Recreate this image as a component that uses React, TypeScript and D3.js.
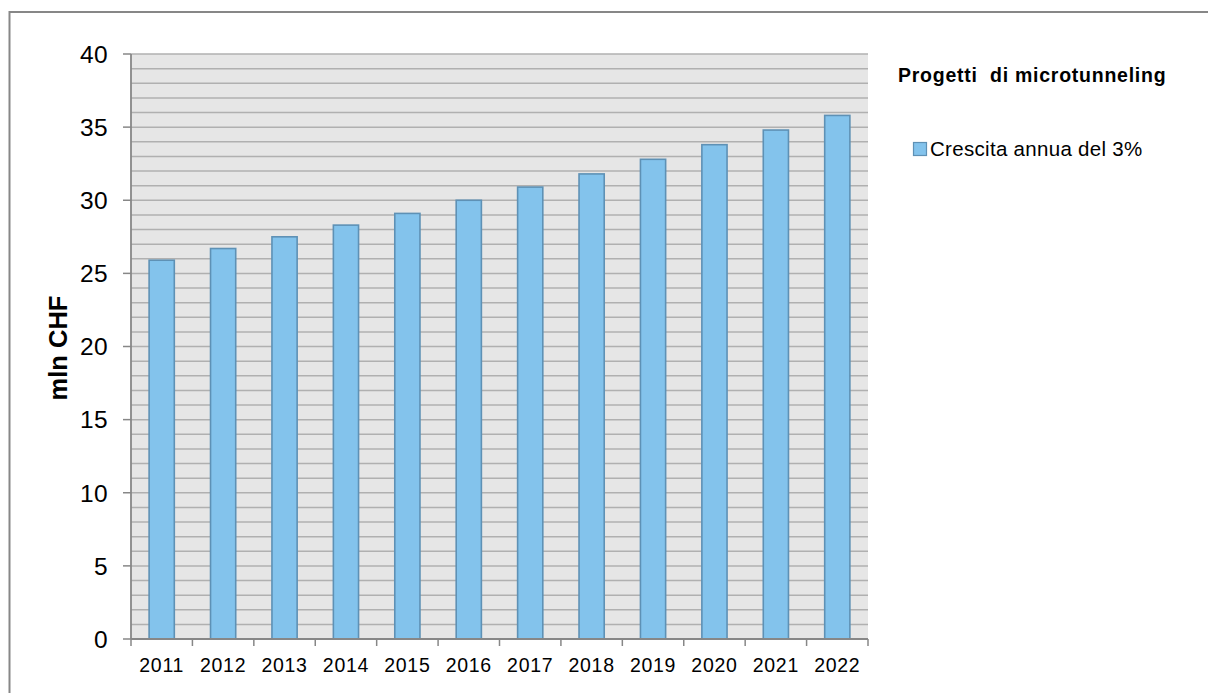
import React from "react";
import * as d3 from "d3";

const years = ["2011","2012","2013","2014","2015","2016","2017","2018","2019","2020","2021","2022"];
const values = [25.9, 26.7, 27.5, 28.3, 29.1, 30.0, 30.9, 31.8, 32.8, 33.8, 34.8, 35.8];
const yTicks = [0, 5, 10, 15, 20, 25, 30, 35, 40];
const gridValues = d3.range(0, 41, 1);
const legendTitle = "Progetti  di microtunneling";
const seriesName = "Crescita annua del 3%";
const yTitle = "mln CHF";

export default function App() {
  const W = 1208, H = 693;
  const left = 131, right = 868, top = 54, bottom = 639;
  const x = d3.scaleBand().domain(years).range([left, right]).paddingInner(0).paddingOuter(0);
  const y = d3.scaleLinear().domain([0, 40]).range([bottom, top]);
  const bw = x.bandwidth() * 0.41;
  const font = "'Liberation Sans', Arial, sans-serif";
  return (
    <svg width={W} height={H} style={{ position: "absolute", left: 0, top: 0, display: "block" }} fontFamily={font}>
      <rect x={0} y={0} width={W} height={H} fill="#fff" />
      <rect x={9.5} y={12} width={1210} height={700} fill="none" stroke="#878787" strokeWidth={2} />
      <rect x={left} y={top} width={right - left} height={bottom - top} fill="#E6E6E6" />
      {gridValues.map(v => (
        <line key={"g" + v} x1={left} x2={right} y1={y(v)} y2={y(v)} stroke="#B0B0B0" strokeWidth={1.5} />
      ))}
      {years.map((yr, i) => (
        <rect key={yr} x={x(yr)! + (x.bandwidth() - bw) / 2} y={y(values[i])} width={bw} height={bottom - y(values[i])}
          fill="#83C3EC" stroke="#5E91B5" strokeWidth={1.6} />
      ))}
      <line x1={left} x2={left} y1={top} y2={bottom} stroke="#878787" strokeWidth={1.8} />
      <line x1={left} x2={right} y1={bottom} y2={bottom} stroke="#878787" strokeWidth={1.8} />
      {yTicks.map(v => (
        <g key={"t" + v}>
          <line x1={left - 8} x2={left} y1={y(v)} y2={y(v)} stroke="#878787" strokeWidth={1.5} />
          <text x={108} y={y(v)} dy="0.36em" textAnchor="end" fontSize={24.5} letterSpacing={0.4} fill="#000">{v}</text>
        </g>
      ))}
      {years.concat(["end"]).map((yr, i) => {
        const xx = left + i * x.step();
        return <line key={"xt" + i} x1={xx} x2={xx} y1={bottom} y2={bottom + 7} stroke="#878787" strokeWidth={1.5} />;
      })}
      {years.map(yr => (
        <text key={"xl" + yr} x={x(yr)! + x.bandwidth() / 2} y={672} textAnchor="middle" fontSize={19.5} letterSpacing={0.7} fill="#000">{yr}</text>
      ))}
      <text transform={`translate(67,348) rotate(-90)`} textAnchor="middle" fontSize={25.5} fontWeight="bold" fill="#000">{yTitle}</text>
      <text x={898} y={82} fontSize={19.5} fontWeight="bold" letterSpacing={0.75} fill="#000" style={{ whiteSpace: "pre" }}>{legendTitle}</text>
      <rect x={913.5} y={142.5} width={13} height={13} fill="#83C3EC" stroke="#5E91B5" strokeWidth={1.2} />
      <text x={930} y={155.5} fontSize={20.5} letterSpacing={0.3} fill="#000">{seriesName}</text>
    </svg>
  );
}
